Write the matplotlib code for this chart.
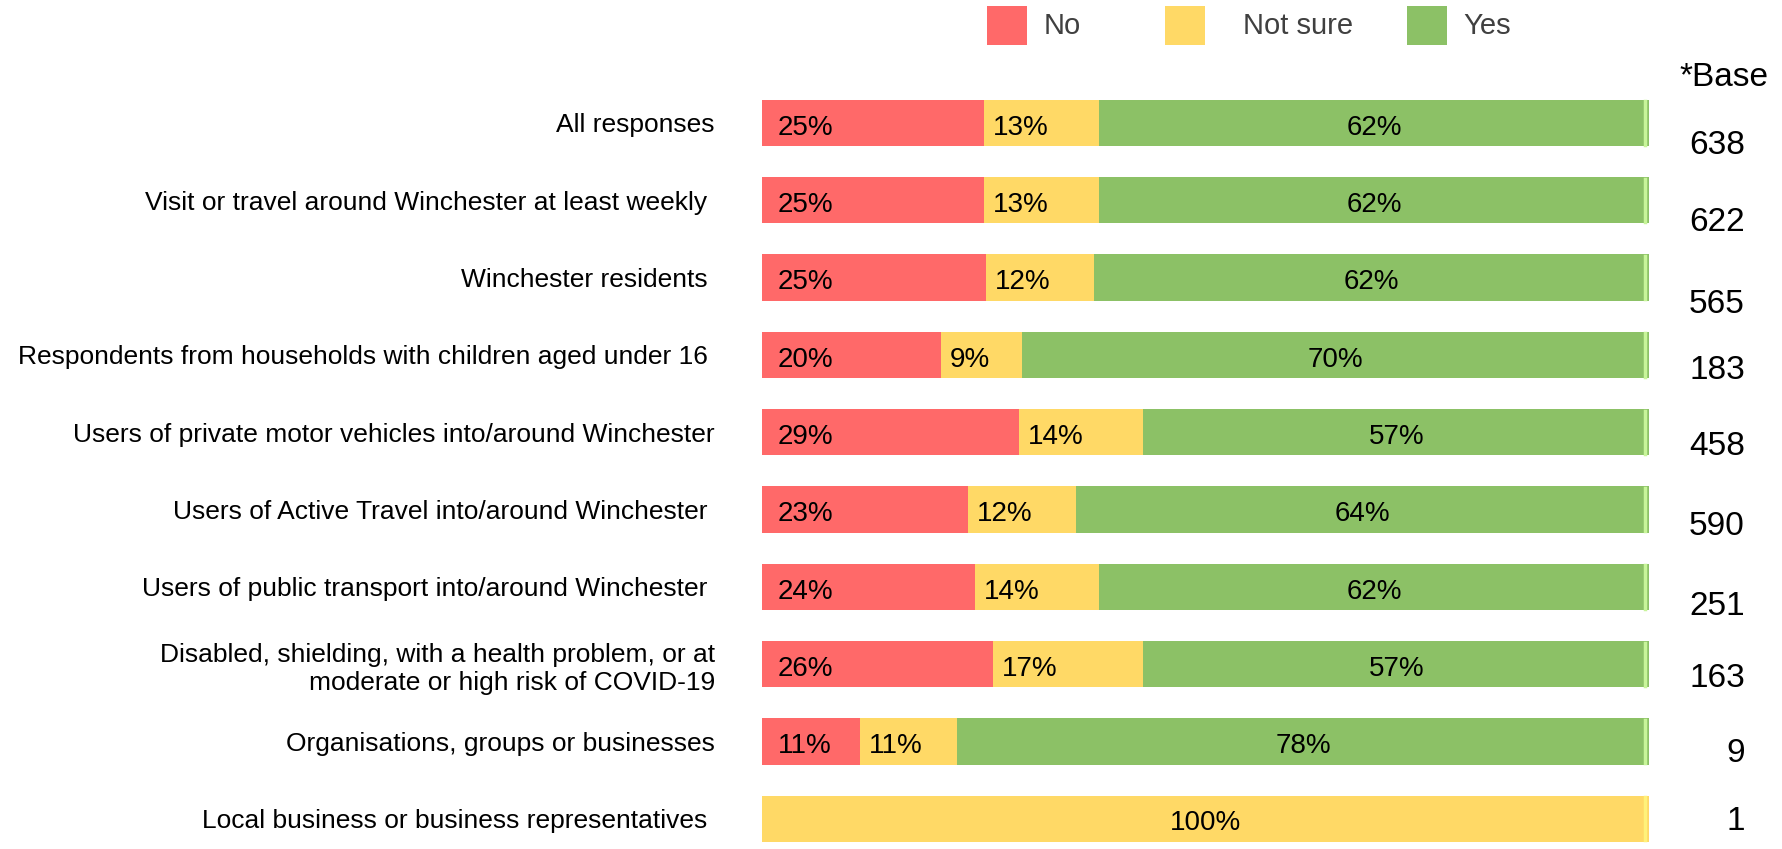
import matplotlib
matplotlib.use("Agg")
import matplotlib.pyplot as plt
from matplotlib.patches import Rectangle
import numpy as np

categories = [
    "All responses",
    "Visit or travel around Winchester at least weekly ",
    "Winchester residents ",
    "Respondents from households with children aged under 16 ",
    "Users of private motor vehicles into/around Winchester",
    "Users of Active Travel into/around Winchester ",
    "Users of public transport into/around Winchester ",
    "Disabled, shielding, with a health problem, or at\nmoderate or high risk of COVID-19",
    "Organisations, groups or businesses",
    "Local business or business representatives ",
]
no_pct = [25, 25, 25, 20, 29, 23, 24, 26, 11, 0]
notsure_pct = [13, 13, 12, 9, 14, 12, 14, 17, 11, 100]
yes_pct = [62, 62, 62, 70, 57, 64, 62, 57, 78, 0]
base = [638, 622, 565, 183, 458, 590, 251, 163, 9, 1]

series = ["No", "Not sure", "Yes"]
colors = ["#FF6969", "#FFD966", "#8CC166"]

FONT = ["Liberation Sans", "DejaVu Sans"]

fig = plt.figure(figsize=(17.83, 8.49), dpi=100)
ax = fig.add_axes([762 / 1783, 0.0, 887 / 1783, 0.9007])

vals = np.array([no_pct, notsure_pct, yes_pct], float)
shares = vals / vals.sum(0) * 100  # 100% stacked
y = np.arange(len(categories))
left = np.zeros(len(categories))
for i, s in enumerate(series):
    ax.barh(y, shares[i], left=left, height=0.6, color=colors[i], edgecolor="none")
    for j in range(len(categories)):
        v = vals[i, j]
        if v <= 0:
            continue
        if i == 2 or v == 100:
            x, ha = left[j] + shares[i, j] / 2, "center"
        else:
            x, ha = left[j] + (1.8 if i == 0 else 1.0), "left"
        ax.text(x, y[j] + 0.06, f"{v:.0f}%", ha=ha, va="center", fontsize=20,
                family=FONT, color="black")
    left += shares[i]

# light edge at the right end like the bevelled bars in the original
edge = ["#C8F59A"] * (len(categories) - 1) + ["#FFF27A"]
for j in range(len(categories)):
    ax.plot([99.6, 99.6], [y[j] - 0.28, y[j] + 0.28], color=edge[j], lw=2.5)

ax.set_xlim(0, 100)
ax.set_ylim(9.39, -0.5)
ax.set_yticks(y)
ax.set_yticklabels(categories, fontsize=19, family=FONT, ha="right")
ax.tick_params(axis="y", length=0, pad=34)
ax.set_xticks([])
for sp in ax.spines.values():
    sp.set_visible(False)

# base sizes on the right
base_dy = [0.29, 0.29, 0.35, 0.2, 0.19, 0.22, 0.25, 0.18, 0.15, 0.03]
for j, b in enumerate(base):
    ax.text(1.108, y[j] + base_dy[j], str(b), transform=ax.get_yaxis_transform(),
            ha="right", va="center", fontsize=24, family=FONT)
fig.text(1768 / 1783, 1 - 77 / 849, "*Base", ha="right", va="center", fontsize=24, family=FONT)

# legend across the top
leg_pos = [(987, 1044), (1165, 1243), (1407, 1463)]
for (px, tx), s, c in zip(leg_pos, series, colors):
    fig.add_artist(Rectangle((px / 1783, 1 - 45 / 849), 40 / 1783, 39 / 849,
                             transform=fig.transFigure, color=c, ec="none"))
    fig.text(tx / 1783, 1 - 26 / 849, s, ha="left", va="center", fontsize=21,
             family=FONT, color="#404040")

fig.savefig("out.png", dpi=100)
